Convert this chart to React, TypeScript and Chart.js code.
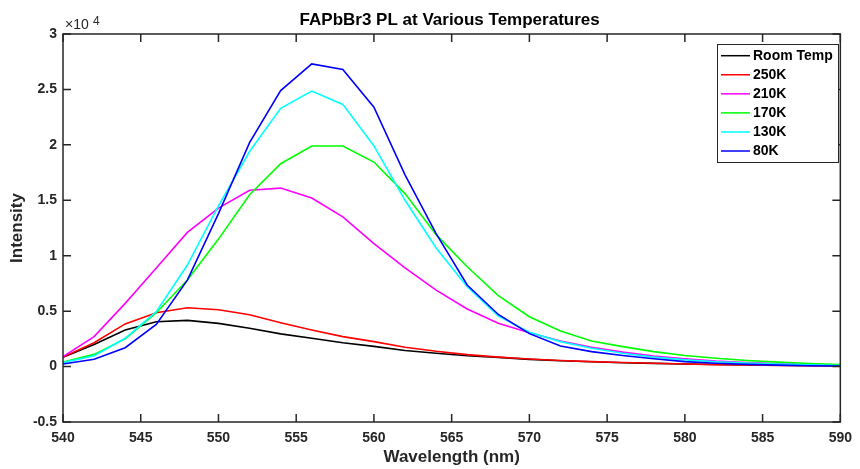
import React, { useEffect, useRef } from "react";
import { Chart, registerables } from "chart.js";

Chart.register(...registerables);

const wavelengths = [540, 542, 544, 546, 548, 550, 552, 554, 556, 558, 560, 562, 564, 566, 568, 570, 572, 574, 576, 578, 580, 582, 584, 586, 588, 590];

const roomTemp = [850, 2000, 3300, 4050, 4170, 3900, 3450, 2950, 2550, 2150, 1820, 1450, 1200, 980, 830, 650, 530, 430, 350, 290, 230, 190, 150, 120, 90, 70];
const k250 = [850, 2150, 3850, 4860, 5300, 5130, 4680, 3960, 3300, 2700, 2250, 1750, 1380, 1080, 850, 680, 550, 450, 370, 300, 230, 180, 140, 110, 80, 60];
const k210 = [900, 2700, 5700, 8900, 12100, 14300, 15900, 16100, 15200, 13500, 11100, 8900, 6900, 5200, 3900, 3050, 2300, 1750, 1300, 950, 700, 500, 370, 270, 190, 130];
const k170 = [400, 1100, 2500, 4860, 7800, 11500, 15500, 18300, 19900, 19900, 18450, 15600, 11900, 9000, 6400, 4500, 3200, 2300, 1800, 1350, 1000, 750, 550, 400, 280, 180];
const k130 = [350, 980, 2550, 4950, 9160, 14500, 19400, 23300, 24850, 23650, 19900, 15000, 10700, 7200, 4560, 3100, 2250, 1650, 1200, 850, 600, 430, 310, 220, 150, 100];
const k80 = [230, 660, 1700, 3800, 7800, 13800, 20200, 24900, 27300, 26800, 23400, 17300, 12000, 7360, 4700, 2970, 1860, 1350, 1000, 700, 450, 300, 200, 130, 80, 50];

const seriesValues = [roomTemp, k250, k210, k170, k130, k80];
const seriesLabels = ["Room Temp", "250K", "210K", "170K", "130K", "80K"];
const seriesColors = ["#000000", "#ff0000", "#ff00ff", "#00ff00", "#00ffff", "#0000ff"];

const xTicks = [540, 545, 550, 555, 560, 565, 570, 575, 580, 585, 590];
const yTicks = [-5000, 0, 5000, 10000, 15000, 20000, 25000, 30000];
const yScaleFactor = 10000;

const chartTitle = "FAPbBr3 PL at Various Temperatures";
const xTitle = "Wavelength (nm)";
const yTitle = "Intensity";

const AXIS = "#262626";
const FONT = "'Liberation Sans', Arial, Helvetica, sans-serif";

const decorPlugin = {
  id: "decor",
  afterDatasetsDraw(chart: any) {
    const { ctx, chartArea, scales } = chart;
    const { left, right, top, bottom } = chartArea;
    const xs = scales.x;
    const ys = scales.y;
    ctx.save();
    // box
    ctx.strokeStyle = AXIS;
    ctx.lineWidth = 1.5;
    ctx.strokeRect(left, top, right - left, bottom - top);
    // inward ticks
    const tl = 8;
    ctx.beginPath();
    for (const t of xTicks) {
      const px = xs.getPixelForValue(t);
      ctx.moveTo(px, bottom);
      ctx.lineTo(px, bottom - tl);
      ctx.moveTo(px, top);
      ctx.lineTo(px, top + tl);
    }
    for (const t of yTicks) {
      const py = ys.getPixelForValue(t);
      ctx.moveTo(left, py);
      ctx.lineTo(left + tl, py);
      ctx.moveTo(right, py);
      ctx.lineTo(right - tl, py);
    }
    ctx.stroke();

    // title
    ctx.fillStyle = "#000000";
    ctx.font = `bold 17px ${FONT}`;
    ctx.textAlign = "center";
    ctx.textBaseline = "middle";
    ctx.fillText(chartTitle, (left + right) / 2 - 2, top - 14);

    // exponent label
    ctx.fillStyle = AXIS;
    ctx.textAlign = "left";
    ctx.font = `14px ${FONT}`;
    ctx.fillText("\u00d710", left + 2, top - 8.5);
    ctx.font = `12px ${FONT}`;
    ctx.fillText("4", left + 30, top - 12.5);

    // legend
    const bx = 717.5;
    const by = 44.5;
    const bw = 121;
    const bh = 118;
    ctx.fillStyle = "#ffffff";
    ctx.fillRect(bx, by, bw, bh);
    ctx.strokeStyle = AXIS;
    ctx.lineWidth = 1;
    ctx.strokeRect(bx, by, bw, bh);
    ctx.font = `bold 14px ${FONT}`;
    ctx.textBaseline = "middle";
    ctx.textAlign = "left";
    seriesLabels.forEach((lab, i) => {
      const cy = 55.7 + i * 19.06;
      ctx.strokeStyle = seriesColors[i];
      ctx.lineWidth = 1.5;
      ctx.beginPath();
      ctx.moveTo(721, cy);
      ctx.lineTo(750, cy);
      ctx.stroke();
      ctx.fillStyle = "#000000";
      ctx.fillText(lab, 753, cy + 0.5);
    });
    ctx.restore();
  },
};

export default function App() {
  const canvasRef = useRef<HTMLCanvasElement | null>(null);

  useEffect(() => {
    const canvas = canvasRef.current;
    if (!canvas) return;
    const datasets = seriesValues.map((vals, i) => ({
      label: seriesLabels[i],
      data: wavelengths.map((w, j) => ({ x: w, y: vals[j] })),
      borderColor: seriesColors[i],
      backgroundColor: seriesColors[i],
      borderWidth: 1.6,
      pointRadius: 0,
      tension: 0,
      fill: false,
      order: seriesValues.length - 1 - i,
    }));
    const chart = new Chart(canvas, {
      type: "line",
      data: { datasets },
      options: {
        animation: false,
        responsive: false,
        maintainAspectRatio: false,
        layout: { padding: { left: 0, right: 12, top: 34, bottom: 0 } },
        plugins: {
          legend: { display: false },
          title: { display: false },
          tooltip: { enabled: false },
        },
        scales: {
          x: {
            type: "linear",
            min: 540,
            max: 590,
            grid: { display: false, drawTicks: false },
            border: { display: false },
            afterFit: (s: any) => {
              s.height = 47;
            },
            afterBuildTicks: (s: any) => {
              s.ticks = xTicks.map((v) => ({ value: v }));
            },
            ticks: {
              padding: 8,
              color: AXIS,
              font: { family: FONT, size: 14, weight: "bold" },
              maxRotation: 0,
              autoSkip: false,
              callback: (v: any) => String(v),
            },
            title: {
              display: true,
              text: xTitle,
              color: AXIS,
              font: { family: FONT, size: 17, weight: "bold" },
              padding: { top: 0, bottom: 1 },
            },
          },
          y: {
            type: "linear",
            min: -5000,
            max: 30000,
            grid: { display: false, drawTicks: false },
            border: { display: false },
            afterFit: (s: any) => {
              s.width = 63;
            },
            afterBuildTicks: (s: any) => {
              s.ticks = yTicks.map((v) => ({ value: v }));
            },
            ticks: {
              padding: 6,
              color: AXIS,
              font: { family: FONT, size: 14, weight: "bold" },
              autoSkip: false,
              callback: (v: any) => String(Number(v) / yScaleFactor),
            },
            title: {
              display: true,
              text: yTitle,
              color: AXIS,
              font: { family: FONT, size: 17, weight: "bold" },
              padding: { top: 7, bottom: 0 },
            },
          },
        },
      },
      plugins: [decorPlugin],
    });
    return () => chart.destroy();
  }, []);

  return (
    <div style={{ position: "fixed", left: 0, top: 0, width: 860, height: 469, background: "#ffffff" }}>
      <canvas ref={canvasRef} width={860} height={469} style={{ width: 860, height: 469, display: "block" }} />
    </div>
  );
}
